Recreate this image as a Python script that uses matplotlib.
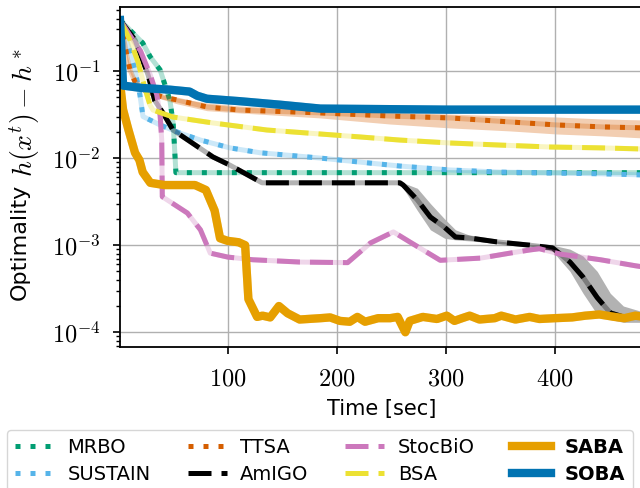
import numpy as np
import matplotlib
matplotlib.use("Agg")
from matplotlib import pyplot as plt
from matplotlib.ticker import NullFormatter

plt.rcParams['mathtext.fontset'] = 'cm'
plt.rcParams['font.family'] = ['DejaVu Sans']

# --- data (time in sec, optimality gap) ---
mrbo_t = [1.2, 13, 22, 29, 38, 42.5, 47, 50, 52.5, 100, 200, 300, 400, 482]
mrbo_y = [0.385, 0.273, 0.21, 0.145, 0.103, 0.069, 0.046, 0.025, 0.0068, 0.0068, 0.0068, 0.0068, 0.0068, 0.0068]

sustain_t = [1.2, 6, 10, 15, 19.5, 22.3, 38, 56, 75, 102, 130, 185, 221, 258, 304, 350, 396, 442, 482]
sustain_y = [0.385, 0.259, 0.174, 0.103, 0.053, 0.030, 0.024, 0.0194, 0.0161, 0.0131, 0.0115, 0.010,
             0.009, 0.0081, 0.0073, 0.0069, 0.00675, 0.0066, 0.0064]

ttsa_t = [1.2, 4.9, 7.6, 10.4, 15, 26, 40.6, 53.5, 81, 111, 185, 249, 304, 359, 402, 444, 482]
ttsa_y = [0.385, 0.227, 0.145, 0.1026, 0.0748, 0.0574, 0.0503, 0.0465, 0.0386, 0.0356, 0.033, 0.0304,
          0.0289, 0.026, 0.024, 0.0228, 0.0222]
ttsa_hi = [0.385, 0.24, 0.16, 0.11, 0.08, 0.061, 0.053, 0.049, 0.043, 0.0396, 0.0356, 0.0338,
           0.032, 0.0304, 0.0296, 0.0281, 0.0274]
ttsa_lo = [0.385, 0.215, 0.132, 0.095, 0.069, 0.054, 0.047, 0.042, 0.035, 0.033, 0.0289, 0.0246,
           0.0222, 0.0205, 0.0189, 0.018, 0.017]

amigo_t = [1.2, 15, 27, 33, 40.6, 49.8, 86.5, 102, 131.5, 258, 261, 274, 286, 299, 309, 322, 347,
           377, 398, 414, 426, 439, 451, 463, 482]
amigo_y = [0.385, 0.227, 0.09, 0.046, 0.033, 0.021, 0.0103, 0.0083, 0.0052, 0.0052, 0.0049, 0.0033,
           0.0021, 0.0016, 0.00124, 0.00121, 0.00109, 0.0010, 0.00093, 0.00064, 0.00043, 0.00025,
           0.000167, 0.00015, 0.00015]
amigo_hi = [0.385, 0.227, 0.09, 0.046, 0.033, 0.021, 0.0103, 0.0083, 0.0052, 0.0052, 0.0052, 0.0045,
            0.0030, 0.0020, 0.0015, 0.0013, 0.00112, 0.00102, 0.0010, 0.0009, 0.00075, 0.0005,
            0.00028, 0.0002, 0.00017]
amigo_lo = [0.385, 0.227, 0.09, 0.046, 0.033, 0.021, 0.0103, 0.0083, 0.0052, 0.0052, 0.0045, 0.0025,
            0.0015, 0.0012, 0.00115, 0.00112, 0.00105, 0.00098, 0.00085, 0.0005, 0.00028, 0.00016,
            0.00014, 0.00013, 0.00013]

stocbio_t = [1.2, 10, 20, 29, 35, 38, 39.5, 40, 63, 75, 84, 100, 123, 166, 210, 231, 252, 267, 295,
             332, 359, 377, 386, 405, 442, 474, 482]
stocbio_y = [0.385, 0.26, 0.17, 0.09, 0.053, 0.031, 0.016, 0.0036, 0.00234, 0.0015, 0.00081, 0.00073,
             0.00068, 0.00064, 0.00063, 0.00106, 0.00142, 0.00109, 0.00067, 0.00071, 0.00081, 0.00088,
             0.00091, 0.00079, 0.00068, 0.00058, 0.00056]

bsa_t = [1.2, 10.4, 17.7, 24, 28.7, 31.5, 49.8, 86.5, 136, 185, 221, 258, 304, 350, 396, 442, 482]
bsa_y = [0.385, 0.227, 0.127, 0.0638, 0.0407, 0.0356, 0.0296, 0.0253, 0.021, 0.0189, 0.0175, 0.0161,
         0.0149, 0.0141, 0.0134, 0.0131, 0.0127]

saba_t = [1.2, 4, 9, 15, 19, 22, 29, 42, 70, 80, 88, 93, 100, 110, 116, 119, 127, 132, 139, 147, 155,
          166, 185, 194, 203, 212, 219, 226, 238, 249, 256, 263, 267, 279, 292, 301, 308, 315, 322,
          331, 345, 351, 364, 377, 386, 400, 416, 428, 441, 455, 464, 474, 482]
saba_y = [0.073, 0.036, 0.021, 0.0115, 0.0095, 0.0069, 0.0052, 0.0049, 0.0049, 0.0043, 0.0025, 0.0012,
          0.00112, 0.00108, 0.0010, 0.00024, 0.00015, 0.000155, 0.000148, 0.0002, 0.000165, 0.00014,
          0.000145, 0.000148, 0.000135, 0.000132, 0.00015, 0.000132, 0.000145, 0.000145, 0.00015,
          0.0001, 0.000135, 0.00015, 0.000142, 0.000155, 0.000135, 0.000145, 0.000155, 0.00014,
          0.000145, 0.000155, 0.00014, 0.00015, 0.000142, 0.000145, 0.000148, 0.000155, 0.00016,
          0.00015, 0.000145, 0.000155, 0.00015]

soba_t = [1.2, 4, 20, 47, 65, 72, 81, 111, 148, 185, 300, 482]
soba_y = [0.385, 0.068, 0.064, 0.061, 0.058, 0.052, 0.048, 0.045, 0.041, 0.037, 0.036, 0.036]

labels = ['MRBO', 'SUSTAIN', 'TTSA', 'AmIGO', 'StocBiO', 'BSA', 'SABA', 'SOBA']
colors = ['#029e73', '#56b4e9', '#d55e00', '#000000', '#cc78bc', '#ece133', '#e69f00', '#0173b2']

fig = plt.figure(figsize=(6.4, 4.88), dpi=100)
ax = fig.add_axes([120 / 640, 1 - 347 / 488, 1.005 - 120 / 640, 340 / 488])

series = [
    (mrbo_t, mrbo_y, None, None, (1, 2), 3.6),
    (sustain_t, sustain_y, None, None, (1, 2), 3.6),
    (ttsa_t, ttsa_y, ttsa_lo, ttsa_hi, (1, 2), 3.6),
    (amigo_t, amigo_y, amigo_lo, amigo_hi, (4.6, 2), 3.6),
    (stocbio_t, stocbio_y, None, None, (4.6, 2), 3.6),
    (bsa_t, bsa_y, None, None, (4.6, 2), 3.6),
    (saba_t, saba_y, None, None, None, 6),
    (soba_t, soba_y, None, None, None, 6),
]

for (t, y, lo, hi, dash, lw), lab, c in zip(series, labels, colors):
    if lo is not None:
        ax.fill_between(t, lo, hi, color=c, alpha=0.3, lw=0)
    ax.plot(t, y, color=c, lw=lw, alpha=0.3, solid_capstyle='butt')
    if dash is None:
        ax.plot(t, y, color=c, lw=lw, label=lab)
    else:
        ax.plot(t, y, color=c, lw=lw, dashes=dash, label=lab)

ax.set_yscale('log')
ax.set_xlim(1.2, 481.2)
ax.set_ylim(6.77e-5, 0.543)
ax.set_xticks([100, 200, 300, 400], labels=['$100$', '$200$', '$300$', '$400$'])
ax.set_yticks([1e-4, 1e-3, 1e-2, 1e-1], labels=['$10^{-4}$', '$10^{-3}$', '$10^{-2}$', '$10^{-1}$'])
ax.yaxis.set_minor_formatter(NullFormatter())
ax.tick_params(labelsize=17.5, width=1.2, length=5, pad=9)
ax.tick_params(which='minor', width=1.0, length=3)
ax.grid(True, which='major', color='#b0b0b0', lw=1.0)
for s in ax.spines.values():
    s.set_linewidth(1.3)

ax.set_xlabel('Time [sec]', fontsize=15, labelpad=6)
# y label: plain word plus a larger math part
fig.text(20 / 640, 1 - 242 / 488, 'Optimality', rotation=90, fontsize=16, ha='center', va='center')
fig.text(25 / 640, 1 - 113 / 488, r'$h(x^t) - h^*$', rotation=90, fontsize=20, ha='center', va='center')

leg = fig.legend(loc='upper center', bbox_to_anchor=(0.5, 1 - 430 / 488), ncol=4, fontsize=14,
                 handlelength=2.0, handletextpad=0.7, columnspacing=1.9, labelspacing=0.4,
                 borderaxespad=0)
for txt in leg.get_texts():
    if txt.get_text() in ('SABA', 'SOBA'):
        txt.set_fontweight('bold')

fig.savefig('out.png', dpi=100)
